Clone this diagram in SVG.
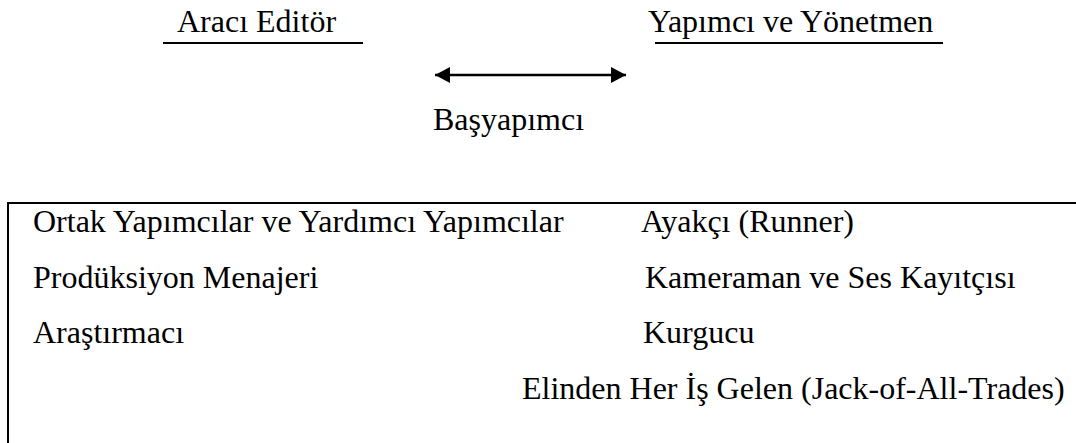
<svg xmlns="http://www.w3.org/2000/svg" width="1076" height="443" viewBox="0 0 1076 443">
  <style>
    text { font-family: "Liberation Serif", "Times New Roman", serif; font-size: 32px; fill: #000; }
    .rule { stroke: #000; stroke-width: 2; fill: none; }
  </style>
  <defs>
    <marker id="head" viewBox="0 0 15 16" refX="15" refY="8" markerWidth="15" markerHeight="16" markerUnits="userSpaceOnUse" orient="auto-start-reverse">
      <path d="M0,0 L15,8 L0,16 Z" fill="#000"/>
    </marker>
  </defs>

  <g id="araci-editor">
    <text x="177" y="32">Aracı Editör</text>
    <line class="rule" x1="163" y1="43" x2="363" y2="43"/>
  </g>

  <g id="yapimci-yonetmen">
    <text x="648" y="32">Yapımcı ve Yönetmen</text>
    <line class="rule" x1="655" y1="43" x2="943" y2="43"/>
  </g>

  <g id="connectors">
    <line x1="435" y1="75" x2="626" y2="75" stroke="#000" stroke-width="2.7" marker-start="url(#head)" marker-end="url(#head)"/>
  </g>

  <g id="basyapimci">
    <text x="433" y="130">Başyapımcı</text>
  </g>

  <g id="ekip">
    <rect class="rule" x="8" y="203" width="1080" height="260"/>
    <text x="33" y="232">Ortak Yapımcılar ve Yardımcı Yapımcılar</text>
    <text x="33" y="288">Prodüksiyon Menajeri</text>
    <text x="33" y="343">Araştırmacı</text>
    <text x="641" y="232">Ayakçı (Runner)</text>
    <text x="645" y="288">Kameraman ve Ses Kayıtçısı</text>
    <text x="643" y="343">Kurgucu</text>
    <text x="522" y="399">Elinden Her İş Gelen (Jack-of-All-Trades)</text>
  </g>
</svg>
